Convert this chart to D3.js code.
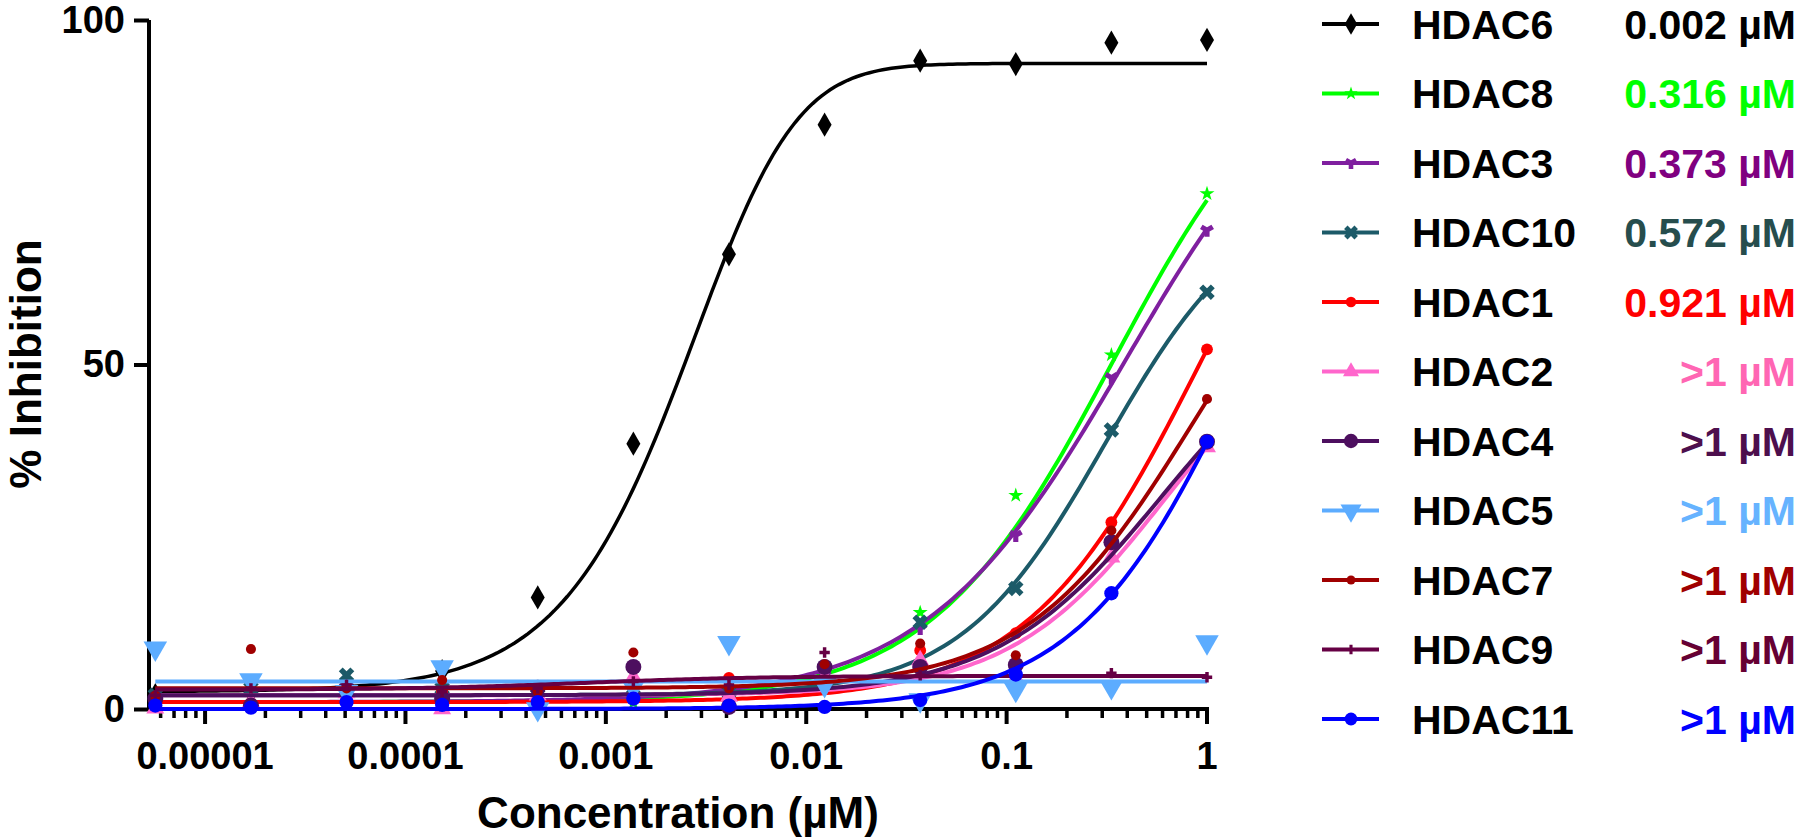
<!DOCTYPE html>
<html>
<head>
<meta charset="utf-8">
<script src="https://cdn.jsdelivr.net/npm/d3@7/dist/d3.min.js"></script>
<style>
  html, body { margin: 0; padding: 0; background: #fff; }
  svg text { font-family: "Liberation Sans", Arial, sans-serif; font-weight: bold; }
</style>
</head>
<body>
<svg id="chart" width="1800" height="837"></svg>
<script>
// concentrations (uM), 3-fold dilution series
var concentrations = [0.000005645, 0.00001694, 0.00005081, 0.0001524, 0.0004572, 0.001372,
                      0.004115, 0.01235, 0.03704, 0.1111, 0.3333, 1];

var seriesNames = ["HDAC6", "HDAC8", "HDAC3", "HDAC10", "HDAC1", "HDAC2",
                   "HDAC4", "HDAC5", "HDAC7", "HDAC9", "HDAC11"];
var ic50Labels = ["0.002 \u00b5M", "0.316 \u00b5M", "0.373 \u00b5M", "0.572 \u00b5M", "0.921 \u00b5M", ">1 \u00b5M",
                  ">1 \u00b5M", ">1 \u00b5M", ">1 \u00b5M", ">1 \u00b5M", ">1 \u00b5M"];

// % inhibition, same order as concentrations
var hdac6  = [2.0, 2.5, 3.0, 5.5, 16.2, 38.5, 66.0, 84.8, 94.1, 93.6, 96.7, 97.1];
var hdac8  = [1.5, 0.8, 2.0, 1.5, 2.5, 0.9, 3.0, 3.5, 14.0, 31.0, 51.4, 74.8];
var hdac3  = [1.0, 2.0, 1.5, 2.0, 2.5, 2.0, 1.5, 5.0, 11.7, 25.2, 48.1, 69.5];
var hdac10 = [2.0, 3.0, 4.9, 3.0, 2.0, 3.0, 2.5, 4.0, 12.6, 17.5, 40.5, 60.5];
var hdac1  = [1.0, 0.9, 1.5, 2.5, 1.0, 1.8, 4.5, 0.3, 8.5, 11.0, 27.1, 52.2];
var hdac2  = [0.1, 1.0, 2.3, 0.0, 2.0, 4.6, 1.8, 4.6, 7.1, 4.5, 22.0, 38.0];
var hdac4  = [1.5, 0.5, 3.1, 1.5, 3.1, 6.1, 0.3, 6.1, 6.1, 6.4, 24.2, 38.8];
var hdac5  = [8.8, 4.2, 2.5, 6.1, 0.0, 3.2, 9.6, 3.5, 1.3, 2.8, 3.2, 9.7];
var hdac7  = [1.9, 8.7, 3.0, 4.2, 2.5, 8.2, 3.0, 6.5, 9.5, 7.8, 25.9, 45.0];
var hdac9  = [2.0, 3.0, 3.5, 2.5, 3.0, 4.0, 3.5, 8.2, 4.9, 5.5, 5.2, 4.6];
var hdac11 = [0.5, 0.2, 1.0, 0.6, 1.0, 1.5, 0.5, 0.3, 1.3, 5.0, 16.8, 38.8];

// fitted curve parameters (asym = 1 gives a plain 4PL)
var fitBottom = [2.5, 1.0, 1.0, 2.0, 1.0, 2.0, 2.0, 4.0, 3.0, 2.8, 0.0];
var fitTop    = [93.7, 100, 100, 75, 100, 60, 60, 4.0, 80, 4.8, 100];
var fitIC50   = [0.00603, 0.34, 0.39, 0.31, 0.935, 0.638, 0.6, 1, 0.85, 0.0008, 1.55];
var fitHill   = [1.2, 0.95, 0.87, 1.2, 1.0, 1.1, 1.05, 1, 1.05, 1.0, 1.05];
var fitAsym   = [2.5, 1, 1, 1, 1, 1, 1, 1, 1, 1, 1];

var allValues = [hdac6, hdac8, hdac3, hdac10, hdac1, hdac2, hdac4, hdac5, hdac7, hdac9, hdac11];

var colors = ["#000000", "#00ff00", "#7f1f9f", "#1c5a68", "#ff0000", "#ff66cc",
              "#4d0f5f", "#5cacff", "#a00000", "#660044", "#0000ff"];
var textColors = ["#000000", "#00ff00", "#800080", "#264d4d", "#ff0000", "#ff66b3",
                  "#4d0f4d", "#66b3ff", "#a00000", "#660033", "#0000ff"];
var symbols = [d3.symbolDiamond, d3.symbolStar, d3.symbolWye, d3.symbolCross, d3.symbolCircle, d3.symbolTriangle,
               d3.symbolCircle, d3.symbolTriangle, d3.symbolCircle, d3.symbolCross, d3.symbolCircle];
var symbolSizes = [170, 70, 90, 150, 110, 140, 200, 240, 80, 60, 160];
var symbolRotate = [0, 0, 0, 45, 0, 0, 0, 180, 0, 0, 0];

var svg = d3.select("#chart");

var x = d3.scaleLog().domain([0.00000525, 1]).range([149, 1207]);
var y = d3.scaleLinear().domain([0, 100]).range([709, 20]);

// y axis
var yAxis = svg.append("g").attr("transform", "translate(149,0)")
  .call(d3.axisLeft(y).tickValues([0, 50, 100]).tickSize(15).tickPadding(9).tickFormat(d3.format("d")));
yAxis.select(".domain").attr("stroke", "#000").attr("stroke-width", 4).attr("d", "M0," + (y(0) + 2) + "V" + y(100));
yAxis.selectAll(".tick line").attr("stroke", "#000").attr("stroke-width", 4);
yAxis.selectAll(".tick text").attr("font-size", 38).attr("fill", "#000")
  .attr("font-family", "Liberation Sans, Arial, sans-serif").attr("font-weight", "bold");

// x axis with minor ticks
var majorTicks = [0.00001, 0.0001, 0.001, 0.01, 0.1, 1];
var minorTicks = [];
for (var e = -6; e < 0; e++) {
  for (var m = 2; m <= 9; m++) {
    var v = m * Math.pow(10, e);
    if (v >= 0.00000525 && v < 1) minorTicks.push(v);
  }
}
var xAxis = svg.append("g").attr("transform", "translate(0,709)");
xAxis.append("line").attr("x1", 147).attr("x2", x(1) + 2).attr("y1", 0).attr("y2", 0)
  .attr("stroke", "#000").attr("stroke-width", 4);
xAxis.selectAll(".minor").data(minorTicks).enter().append("line")
  .attr("x1", function(d) { return x(d); }).attr("x2", function(d) { return x(d); })
  .attr("y1", 0).attr("y2", 9).attr("stroke", "#000").attr("stroke-width", 3.5);
xAxis.selectAll(".major").data(majorTicks).enter().append("line")
  .attr("x1", function(d) { return x(d); }).attr("x2", function(d) { return x(d); })
  .attr("y1", 0).attr("y2", 15).attr("stroke", "#000").attr("stroke-width", 4);
xAxis.selectAll(".lab").data(majorTicks).enter().append("text")
  .attr("x", function(d) { return x(d); }).attr("y", 60)
  .attr("text-anchor", "middle").attr("font-size", 38)
  .text(function(d) { return d3.format("~f")(d); });

// axis titles
svg.append("text").attr("x", 678).attr("y", 828).attr("text-anchor", "middle")
  .attr("font-size", 44).text("Concentration (\u00b5M)");
svg.append("text").attr("transform", "translate(41,364) rotate(-90)").attr("text-anchor", "middle")
  .attr("font-size", 44).text("% Inhibition");

// curves (asymmetric logistic)
function fitValue(i, c) {
  var r = Math.pow(c / fitIC50[i], fitHill[i]);
  return fitTop[i] - (fitTop[i] - fitBottom[i]) / Math.pow(1 + r, fitAsym[i]);
}
var curveX = d3.range(0, 241).map(function(k) {
  return Math.pow(10, Math.log10(concentrations[0]) + k * (0 - Math.log10(concentrations[0])) / 240);
});
var line = d3.line().x(function(d) { return x(d[0]); }).y(function(d) { return y(d[1]); });

var plot = svg.append("g");
seriesNames.forEach(function(name, i) {
  var g = plot.append("g");
  g.append("path")
    .datum(curveX.map(function(c) { return [c, fitValue(i, c)]; }))
    .attr("d", line).attr("fill", "none").attr("stroke", colors[i])
    .attr("stroke-width", i === 0 ? 3.5 : 4);
  g.selectAll("path.pt").data(allValues[i]).enter().append("path")
    .attr("class", "pt")
    .attr("d", d3.symbol().type(symbols[i]).size(symbolSizes[i]))
    .attr("transform", function(d, k) {
      return "translate(" + x(concentrations[k]) + "," + y(d) + ") rotate(" + symbolRotate[i] + ")";
    })
    .attr("fill", colors[i]);
});

// legend
var legend = svg.append("g");
seriesNames.forEach(function(name, i) {
  var ly = 24 + i * 69.5;
  legend.append("line").attr("x1", 1322).attr("x2", 1379).attr("y1", ly).attr("y2", ly)
    .attr("stroke", colors[i]).attr("stroke-width", 4);
  legend.append("path").attr("d", d3.symbol().type(symbols[i]).size(symbolSizes[i] * 0.8))
    .attr("transform", "translate(1351," + ly + ") rotate(" + symbolRotate[i] + ")")
    .attr("fill", colors[i]);
  legend.append("text").attr("x", 1412).attr("y", ly).attr("dy", "0.36em")
    .attr("font-size", 41).attr("fill", "#000").text(name);
  legend.append("text").attr("x", 1796).attr("y", ly).attr("dy", "0.36em")
    .attr("text-anchor", "end").attr("font-size", 41).attr("fill", textColors[i]).text(ic50Labels[i]);
});
</script>
</body>
</html>
